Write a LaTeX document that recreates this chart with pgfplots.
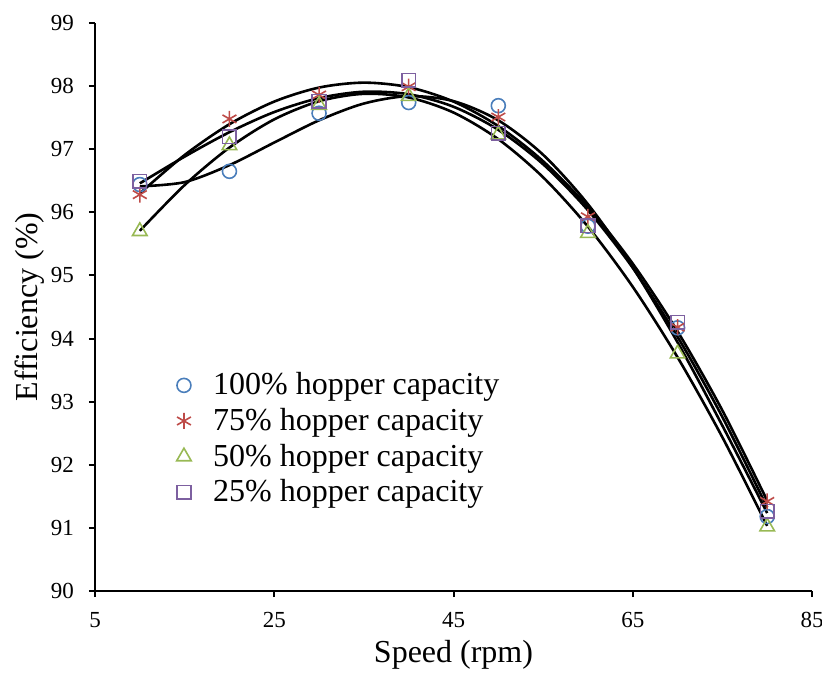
\documentclass[border=0pt]{standalone}
\usepackage{fontspec}
\setmainfont{Liberation Serif}
\usepackage{pgfplots}
\pgfplotsset{compat=1.18}
\definecolor{cBlue}{HTML}{4A7EBB}
\definecolor{cRed}{HTML}{BE4B48}
\definecolor{cGreen}{HTML}{98B954}
\definecolor{cPurple}{HTML}{7D60A0}
\begin{document}
\begin{tikzpicture}
\useasboundingbox (-47.5pt,-42pt) rectangle (363.5pt,295.5pt);
\begin{axis}[
  at={(0,0)}, anchor=south west,
  scale only axis, width=358.5pt, height=284pt,
  xmin=5, xmax=85, ymin=90, ymax=99,
  xtick={5,25,45,65,85}, ytick={90,91,...,99},
  axis x line*=bottom, axis y line*=left,
  axis line style={line width=1pt, black, -},
  tick align=outside, major tick length=3pt,
  every tick/.style={black, line width=1pt},
  /pgf/number format/assume math mode=true,
  ticklabel style={font=\fontsize{11.5}{13}\selectfont},
  xticklabel style={yshift=-4pt},
  yticklabel style={xshift=-4pt},
  xlabel={Speed (rpm)}, ylabel={Efficiency (\%)},
  xlabel style={at={(axis description cs:0.5,-0.112)}, anchor=center, font=\fontsize{16}{19}\selectfont},
  ylabel style={at={(axis description cs:-0.0907,0.5)}, anchor=center, rotate=0, font=\fontsize{16}{19}\selectfont},
  legend style={draw=none, fill=none, at={(axis description cs:0.105,0.399)}, anchor=north west,
    font=\fontsize{16}{19}\selectfont, row sep=1.2pt},
  legend cell align=left,
  clip=false,
]
% data
\addplot[only marks, mark=o, mark size=3.5pt, cBlue, line width=0.8pt] coordinates {
(10,96.44) (20,96.65) (30,97.57) (40,97.74) (50,97.69) (60,95.78) (70,94.17) (80,91.18)};
\addlegendentry{\hspace*{9pt}100\% hopper capacity}
\addplot[only marks, mark=asterisk, mark size=4pt, cRed, line width=0.8pt] coordinates {
(10,96.28) (20,97.48) (30,97.86) (40,97.99) (50,97.51) (60,95.93) (70,94.18) (80,91.42)};
\addlegendentry{\hspace*{9pt}75\% hopper capacity}
\addplot[only marks, mark=triangle, mark size=4.2pt, cGreen, line width=0.8pt] coordinates {
(10,95.70) (20,97.06) (30,97.70) (40,97.84) (50,97.23) (60,95.67) (70,93.76) (80,91.02)};
\addlegendentry{\hspace*{9pt}50\% hopper capacity}
\addplot[only marks, mark=square, mark size=3.4pt, cPurple, line width=0.8pt] coordinates {
(10,96.49) (20,97.20) (30,97.76) (40,98.09) (50,97.25) (60,95.79) (70,94.26) (80,91.26)};
\addlegendentry{\hspace*{9pt}25\% hopper capacity}
% 4th-order polynomial trendlines (values computed from the fits)
\addplot[black, line width=1.3pt, smooth, forget plot] coordinates {
(10,96.411) (15,96.479) (20,96.748) (25,97.106) (30,97.458) (35,97.724) (40,97.841) (45,97.762)
(50,97.457) (55,96.912) (60,96.129) (65,95.127) (70,93.940) (75,92.620) (80,91.235)};
\addplot[black, line width=1.3pt, smooth, forget plot] coordinates {
(10,96.300) (15,96.908) (20,97.396) (25,97.755) (30,97.977) (35,98.055) (40,97.983) (45,97.755)
(50,97.366) (55,96.810) (60,96.085) (65,95.187) (70,94.113) (75,92.861) (80,91.431)};
\addplot[black, line width=1.3pt, smooth, forget plot] coordinates {
(10,95.707) (15,96.432) (20,97.026) (25,97.473) (30,97.760) (35,97.878) (40,97.820) (45,97.581)
(50,97.159) (55,96.555) (60,95.773) (65,94.820) (70,93.703) (75,92.436) (80,91.032)};
\addplot[black, line width=1.3pt, smooth, forget plot] coordinates {
(10,96.459) (15,96.883) (20,97.270) (25,97.589) (30,97.810) (35,97.911) (40,97.871) (45,97.673)
(50,97.307) (55,96.762) (60,96.033) (65,95.121) (70,94.027) (75,92.757) (80,91.324)};
\end{axis}
\end{tikzpicture}
\end{document}
